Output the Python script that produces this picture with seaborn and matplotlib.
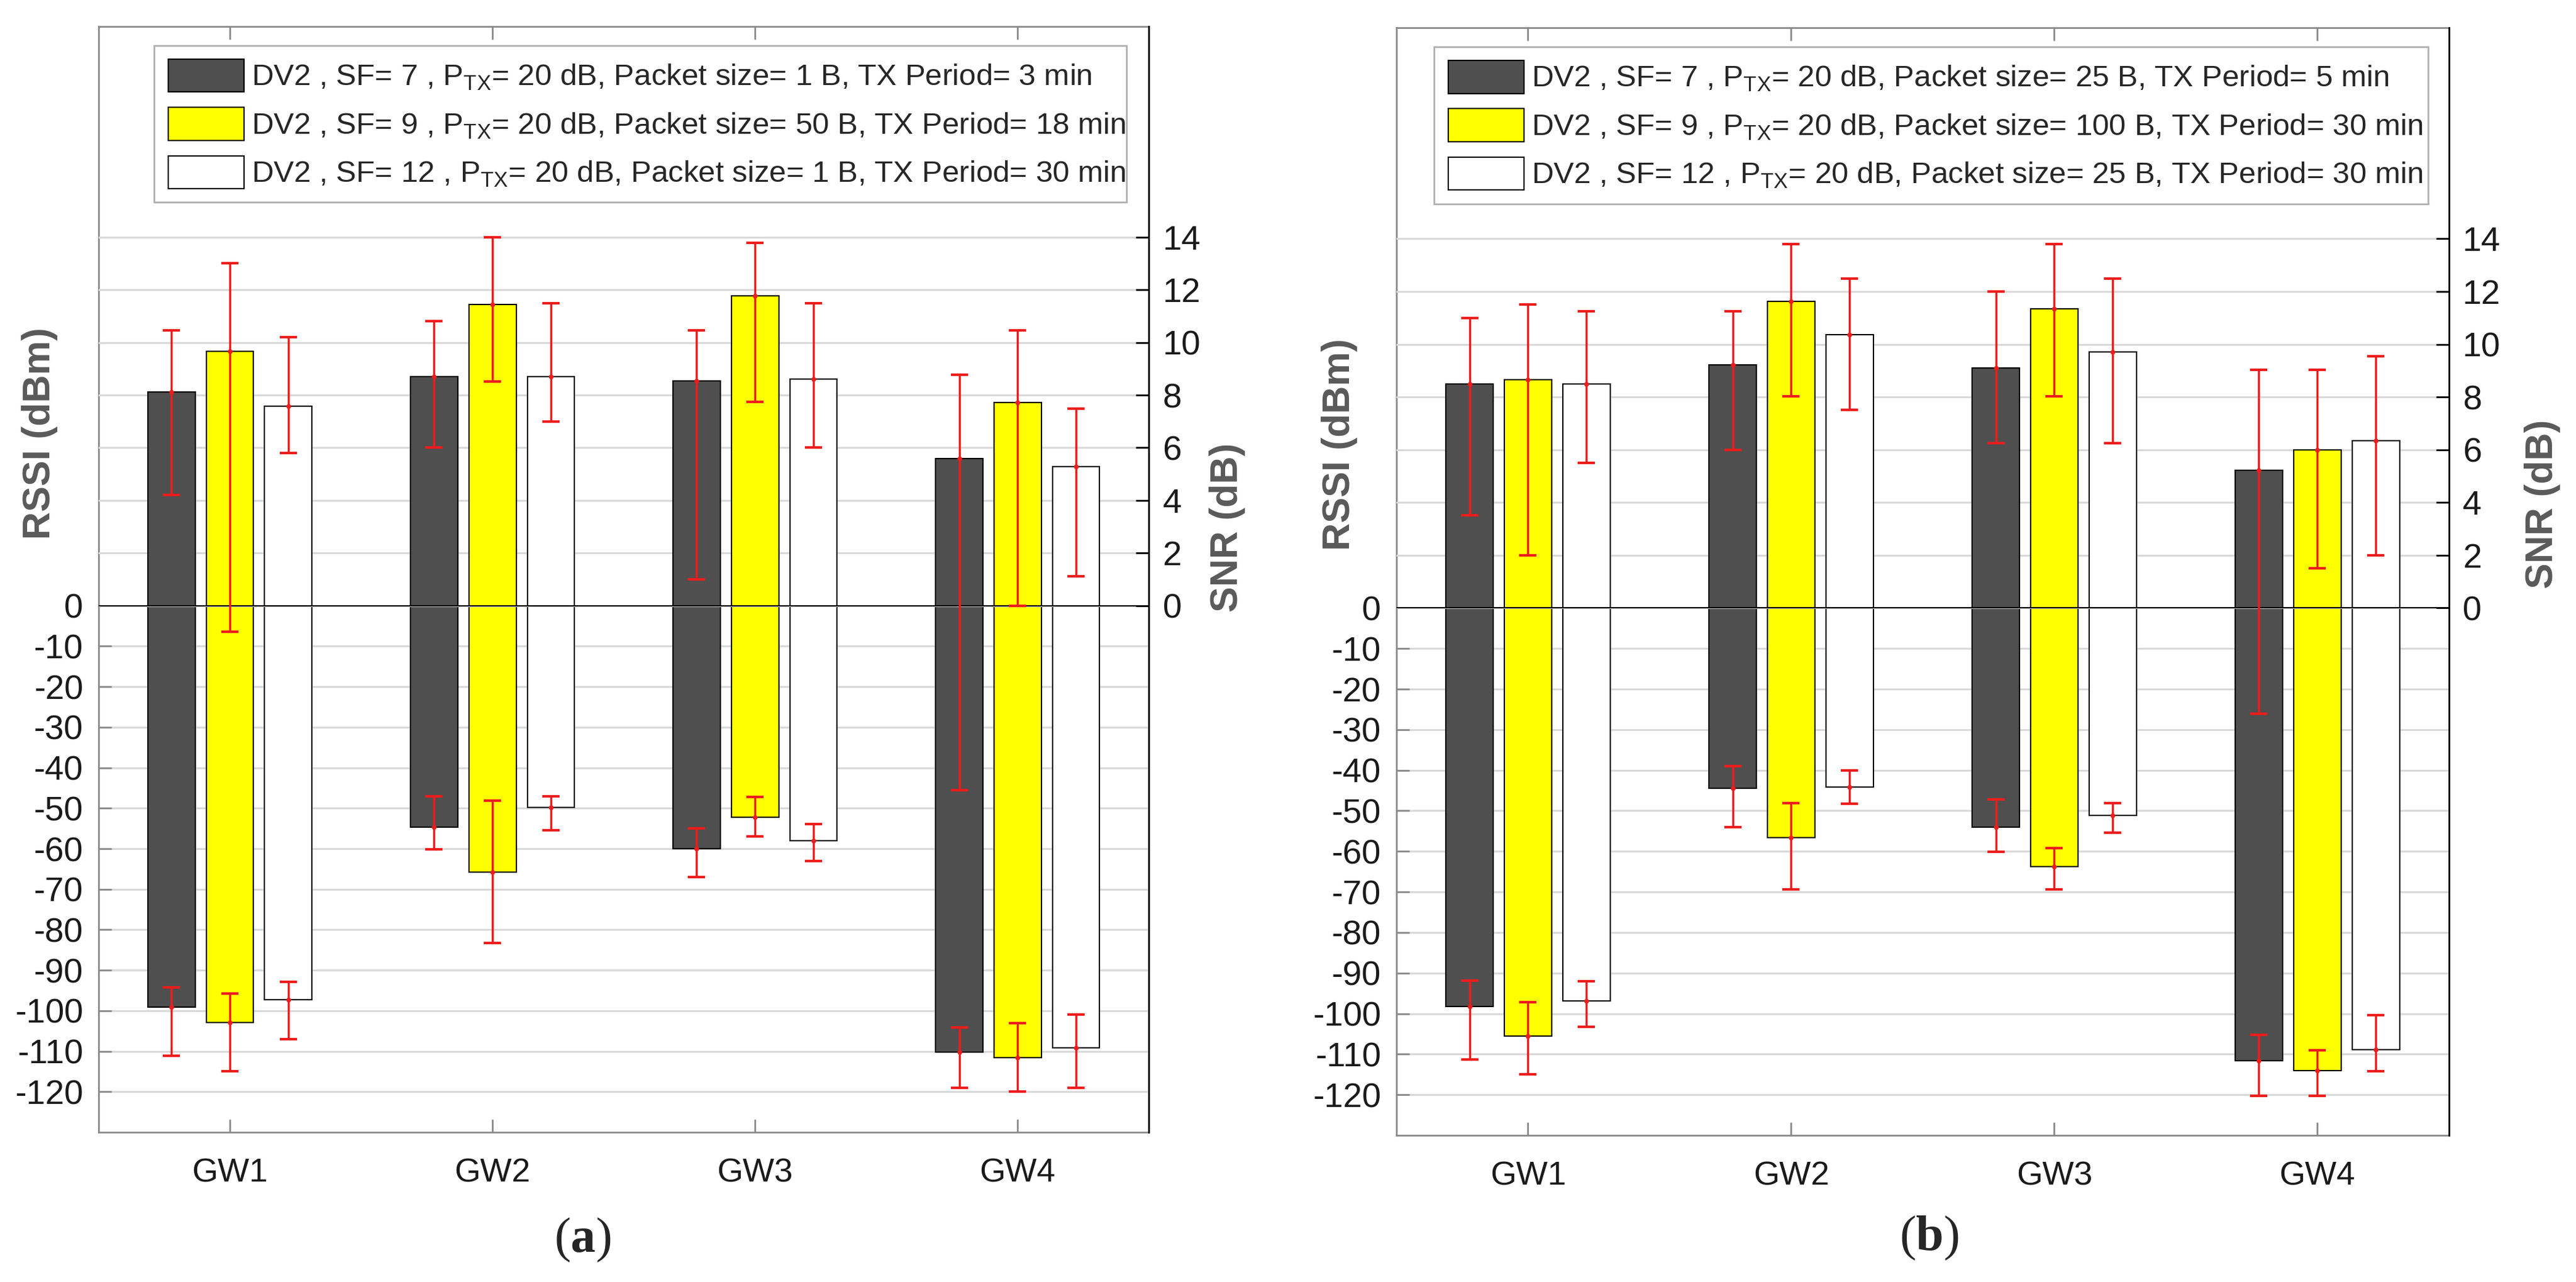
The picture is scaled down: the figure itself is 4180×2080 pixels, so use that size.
import numpy as np
import pandas as pd
import matplotlib
matplotlib.use("Agg")
import matplotlib.pyplot as plt
from matplotlib.container import BarContainer
import seaborn as sns

# --- data ---
gateways = ["GW1", "GW2", "GW3", "GW4"]
configs = ["SF7", "SF9", "SF12"]
bar_colors = ["#4f4f4f", "#ffff00", "#ffffff"]

labels_a = [
    r"DV2 , SF= 7 , P$_{\mathrm{TX}}$= 20 dB, Packet size= 1 B, TX Period= 3 min",
    r"DV2 , SF= 9 , P$_{\mathrm{TX}}$= 20 dB, Packet size= 50 B, TX Period= 18 min",
    r"DV2 , SF= 12 , P$_{\mathrm{TX}}$= 20 dB, Packet size= 1 B, TX Period= 30 min",
]
labels_b = [
    r"DV2 , SF= 7 , P$_{\mathrm{TX}}$= 20 dB, Packet size= 25 B, TX Period= 5 min",
    r"DV2 , SF= 9 , P$_{\mathrm{TX}}$= 20 dB, Packet size= 100 B, TX Period= 30 min",
    r"DV2 , SF= 12 , P$_{\mathrm{TX}}$= 20 dB, Packet size= 25 B, TX Period= 30 min",
]

# panel (a)
snr_a = [[8.12, 8.71, 8.55, 5.6], [9.67, 11.45, 11.76, 7.71], [7.59, 8.71, 8.6, 5.29]]
snr_lo_a = [[4.2, 6.0, 1.0, -7.0], [-1.0, 8.52, 7.75, 0.0], [5.8, 7.0, 6.0, 1.13]]
snr_hi_a = [[10.47, 10.8, 10.47, 8.77], [13.0, 14.0, 13.78, 10.47], [10.2, 11.48, 11.48, 7.48]]
rssi_a = [[-99.1, -54.6, -60.0, -110.2], [-102.9, -65.7, -52.2, -111.6], [-97.2, -49.8, -58.0, -109.2]]
rssi_lo_a = [[-111.1, -60.1, -67.0, -119.0], [-115.0, -83.2, -57.0, -120.0], [-107.0, -55.4, -63.1, -119.0]]
rssi_hi_a = [[-94.2, -47.0, -54.9, -104.1], [-95.7, -48.1, -47.2, -103.1], [-92.8, -47.1, -53.9, -101.0]]

# panel (b)
snr_b = [[8.49, 9.22, 9.11, 5.23], [8.65, 11.63, 11.34, 6.0], [8.49, 10.36, 9.7, 6.35]]
snr_lo_b = [[3.52, 6.0, 6.24, -4.0], [2.0, 8.03, 8.03, 1.5], [5.5, 7.5, 6.24, 2.0]]
snr_hi_b = [[11.0, 11.24, 12.0, 9.04], [11.52, 13.8, 13.8, 9.04], [11.24, 12.5, 12.5, 9.55]]
rssi_b = [[-98.2, -44.5, -54.1, -111.6], [-105.6, -56.6, -63.8, -114.1], [-96.9, -44.1, -51.2, -108.9]]
rssi_lo_b = [[-111.3, -54.0, -60.1, -120.2], [-115.0, -69.3, -69.3, -120.2], [-103.3, -48.2, -55.4, -114.2]]
rssi_hi_b = [[-91.8, -39.0, -47.2, -105.2], [-97.2, -48.1, -59.2, -109.0], [-92.0, -40.0, -48.1, -100.3]]

sns.set_style("white")
plt.rcParams["font.family"] = ["Liberation Sans", "DejaVu Sans"]
plt.rcParams["mathtext.fontset"] = "custom"
plt.rcParams["mathtext.rm"] = "Liberation Sans"
plt.rcParams["mathtext.bf"] = "Liberation Serif:bold"
plt.rcParams["axes.unicode_minus"] = False

GRID = "#d9d9d9"
LABEL_C = "#5a5a5a"
SPINE_C = "#8a8a8a"


def to_long(vals, name):
    rows = []
    for c, row in zip(configs, vals):
        for g, v in zip(gateways, row):
            rows.append({"gw": g, "cfg": c, name: v})
    return pd.DataFrame(rows)


def add_errorbars(ax, bars, mean, lo, hi):
    for i, cont in enumerate(bars):
        xs = [b.get_x() + b.get_width() / 2 for b in cont]
        m = np.array(mean[i])
        yerr = [m - np.array(lo[i]), np.array(hi[i]) - m]
        ax.errorbar(xs, m, yerr=yerr, fmt="o", color="#ee1c1c", ms=4.5,
                    elinewidth=2.5, capsize=10, capthick=3, zorder=5)


def panel(rect, snr, snr_lo, snr_hi, rssi, rssi_lo, rssi_hi, labels,
          legbox, rssi_lab, snr_lab, tag, tagpos):
    ax = fig.add_axes(rect)
    ax2 = ax.twinx()

    sns.barplot(data=to_long(rssi, "rssi"), x="gw", y="rssi", hue="cfg",
                hue_order=configs, palette=bar_colors, saturation=1,
                width=0.667, gap=0.19, errorbar=None, edgecolor="black",
                linewidth=1.5, legend=False, ax=ax)
    sns.barplot(data=to_long(snr, "snr"), x="gw", y="snr", hue="cfg",
                hue_order=configs, palette=bar_colors, saturation=1,
                width=0.667, gap=0.19, errorbar=None, edgecolor="black",
                linewidth=1.5, legend=False, ax=ax2)
    bars1 = [c for c in ax.containers if isinstance(c, BarContainer)]
    bars2 = [c for c in ax2.containers if isinstance(c, BarContainer)]
    add_errorbars(ax, bars1, rssi, rssi_lo, rssi_hi)
    add_errorbars(ax2, bars2, snr, snr_lo, snr_hi)

    ax.set_xlim(-0.5, 3.5)
    ax.set_ylim(-130, 143)
    ax2.set_ylim(-20, 22)
    ax.set_yticks(np.arange(0, -121, -10))
    ax2.set_yticks(np.arange(0, 15, 2))

    ax.set_axisbelow(True)
    ax2.set_axisbelow(True)
    ax.yaxis.grid(True, color=GRID, lw=2.2)
    ax2.yaxis.grid(True, color=GRID, lw=2.2)
    ax.xaxis.grid(False)
    ax2.xaxis.grid(False)
    ax2.axhline(0, color="black", lw=1.5, zorder=1)

    ax.set_xlabel("")
    ax2.set_xlabel("")
    ax.set_ylabel("RSSI (dBm)", fontsize=45, fontweight="bold", color=LABEL_C)
    ax2.set_ylabel("SNR (dB)", fontsize=45, fontweight="bold", color=LABEL_C)
    ax.yaxis.set_label_coords(*rssi_lab)
    ax2.yaxis.set_label_coords(*snr_lab)

    ax.tick_params(axis="y", direction="in", length=15, width=2, color=SPINE_C,
                   labelsize=40, labelcolor="#1a1a1a", pad=18)
    ax.tick_params(axis="x", direction="in", length=15, width=2, color=SPINE_C,
                   top=True, bottom=True, labelsize=39, labelcolor="#1a1a1a", pad=30)
    ax2.tick_params(axis="y", direction="in", length=15, width=2, color="black",
                    labelsize=40, labelcolor="#1a1a1a", pad=16)

    for s in ["left", "top", "bottom"]:
        ax.spines[s].set_color(SPINE_C)
        ax.spines[s].set_linewidth(2)
        ax2.spines[s].set_visible(False)
    ax.spines["right"].set_visible(False)
    ax2.spines["right"].set_color("black")
    ax2.spines["right"].set_linewidth(2)

    leg = ax2.legend(bars2, labels, loc="upper left",
                     bbox_to_anchor=legbox, mode="expand", fontsize=35.5,
                     frameon=True, fancybox=False, framealpha=1,
                     edgecolor="#b0b0b0", handlelength=2.5, handleheight=1.3,
                     handletextpad=0.25, labelspacing=0.5, borderpad=0.45,
                     borderaxespad=0)
    leg.get_frame().set_linewidth(2)
    leg.set_zorder(10)

    fig.text(tagpos[0], tagpos[1], tag, fontsize=58, ha="center", va="center",
             family="Liberation Serif")
    return ax, ax2


fig = plt.figure(figsize=(41.8, 20.8), dpi=100)

panel([0.0383, 0.1168, 0.4077, 0.8625], snr_a, snr_lo_a, snr_hi_a,
      rssi_a, rssi_lo_a, rssi_hi_a, labels_a, (0.053, 0.836, 0.926, 0.147),
      (-0.039, 0.632), (1.0575, 0.547), r"($\mathbf{a}$)", (0.226, 0.033))
panel([0.5421, 0.1144, 0.4086, 0.8639], snr_b, snr_lo_b, snr_hi_b,
      rssi_b, rssi_lo_b, rssi_hi_b, labels_b, (0.036, 0.834, 0.944, 0.149),
      (-0.037, 0.624), (1.0714, 0.570), r"($\mathbf{b}$)", (0.749, 0.034))

fig.savefig("out.png", dpi=100)
